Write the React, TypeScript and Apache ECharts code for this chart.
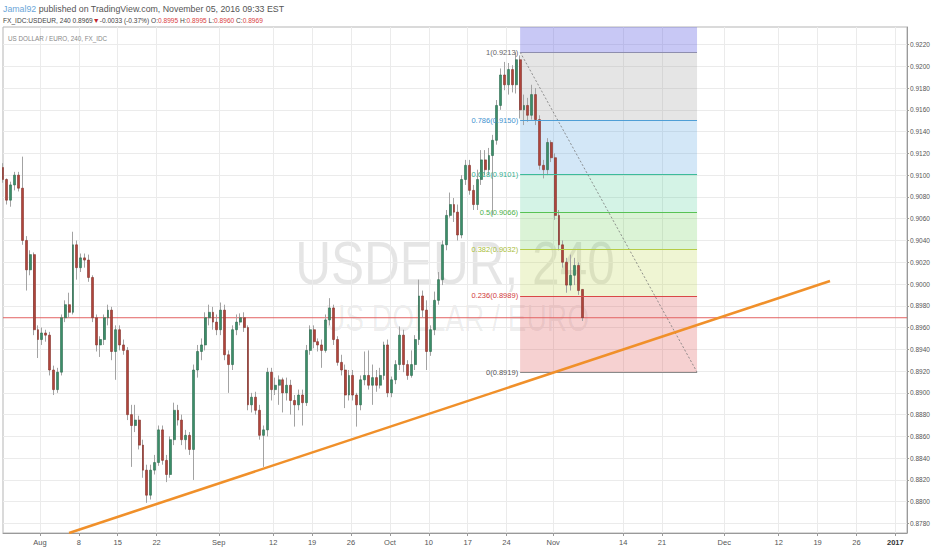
import React, { useEffect, useRef } from "react";
import * as echarts from "echarts";

// 12-hour candles (two per trading day), slot index from Mon Jul 25 2016
const opens = [
  0.9107, 0.9096, 0.9077, 0.9091, 0.9100, 0.9088, 0.9040, 0.9013, 0.9027, 0.8958,
  0.8949, 0.8955, 0.8953, 0.8921, 0.8903, 0.8919, 0.8969, 0.8981, 0.8974, 0.9036,
  0.9015, 0.9024, 0.9022, 0.9006, 0.8969, 0.8944, 0.8949, 0.8969, 0.8976, 0.8938,
  0.8958, 0.8944, 0.8939, 0.8880, 0.8870, 0.8875, 0.8852, 0.8829, 0.8806, 0.8829,
  0.8836, 0.8866, 0.8838, 0.8825, 0.8857, 0.8884, 0.8875, 0.8857, 0.8861, 0.8848,
  0.8921, 0.8938, 0.8944, 0.8969, 0.8974, 0.8965, 0.8958, 0.8976, 0.8935, 0.8926,
  0.8958, 0.8965, 0.8969, 0.8960, 0.8889, 0.8896, 0.8884, 0.8861, 0.8866, 0.8919,
  0.8903, 0.8907, 0.8912, 0.8900, 0.8907, 0.8893, 0.8889, 0.8898, 0.8891, 0.8939,
  0.8958, 0.8947, 0.8944, 0.8939, 0.8967, 0.8978, 0.8949, 0.8928, 0.8921, 0.8898,
  0.8916, 0.8898, 0.8889, 0.8912, 0.8916, 0.8907, 0.8914, 0.8907, 0.8916, 0.8944,
  0.8900, 0.8912, 0.8926, 0.8953, 0.8926, 0.8916, 0.8926, 0.8949, 0.8989, 0.8976,
  0.8938, 0.8958, 0.8985, 0.9004, 0.9036, 0.9063, 0.9073, 0.9066, 0.9045, 0.9096,
  0.9109, 0.9086, 0.9073, 0.9096, 0.9114, 0.9105, 0.9118, 0.9132, 0.9164, 0.9192,
  0.9183, 0.9197, 0.9183, 0.9206, 0.9160, 0.9164, 0.9155, 0.9174, 0.9151, 0.9109,
  0.9105, 0.9130, 0.9116, 0.9063, 0.9036, 0.9020, 0.8999, 0.9008, 0.9017, 0.8995,
];
const closes = [
  0.9096, 0.9077, 0.9091, 0.9100, 0.9088, 0.9040, 0.9013, 0.9027, 0.8958, 0.8949,
  0.8955, 0.8953, 0.8921, 0.8903, 0.8919, 0.8969, 0.8981, 0.8974, 0.9036, 0.9015,
  0.9024, 0.9022, 0.9006, 0.8969, 0.8944, 0.8949, 0.8969, 0.8976, 0.8938, 0.8958,
  0.8944, 0.8939, 0.8880, 0.8870, 0.8875, 0.8852, 0.8829, 0.8806, 0.8829, 0.8836,
  0.8866, 0.8838, 0.8825, 0.8857, 0.8884, 0.8875, 0.8857, 0.8861, 0.8848, 0.8921,
  0.8938, 0.8944, 0.8969, 0.8974, 0.8965, 0.8958, 0.8976, 0.8935, 0.8926, 0.8958,
  0.8965, 0.8969, 0.8960, 0.8889, 0.8896, 0.8884, 0.8861, 0.8866, 0.8919, 0.8903,
  0.8907, 0.8912, 0.8900, 0.8907, 0.8893, 0.8889, 0.8898, 0.8891, 0.8939, 0.8958,
  0.8947, 0.8944, 0.8939, 0.8967, 0.8978, 0.8949, 0.8928, 0.8921, 0.8898, 0.8916,
  0.8898, 0.8889, 0.8912, 0.8916, 0.8907, 0.8914, 0.8907, 0.8916, 0.8944, 0.8900,
  0.8912, 0.8926, 0.8953, 0.8926, 0.8916, 0.8926, 0.8949, 0.8989, 0.8976, 0.8938,
  0.8958, 0.8985, 0.9004, 0.9036, 0.9063, 0.9073, 0.9066, 0.9045, 0.9096, 0.9109,
  0.9086, 0.9073, 0.9096, 0.9114, 0.9105, 0.9118, 0.9132, 0.9164, 0.9192, 0.9183,
  0.9197, 0.9183, 0.9206, 0.9160, 0.9164, 0.9155, 0.9174, 0.9151, 0.9109, 0.9105,
  0.9130, 0.9116, 0.9063, 0.9036, 0.9020, 0.8999, 0.9008, 0.9017, 0.8994, 0.8969,
];
const highs = [
  0.9111, 0.9097, 0.9094, 0.9103, 0.9103, 0.9117, 0.9044, 0.9031, 0.9029, 0.8962,
  0.8960, 0.8958, 0.8956, 0.8925, 0.8923, 0.8972, 0.8985, 0.8992, 0.9048, 0.9040,
  0.9028, 0.9028, 0.9027, 0.9008, 0.8972, 0.8952, 0.8972, 0.8981, 0.8979, 0.8962,
  0.8962, 0.8949, 0.8942, 0.8889, 0.8889, 0.8879, 0.8857, 0.8834, 0.8834, 0.8843,
  0.8870, 0.8870, 0.8843, 0.8860, 0.8891, 0.8889, 0.8880, 0.8866, 0.8864, 0.8926,
  0.8944, 0.8950, 0.8974, 0.8981, 0.8979, 0.8972, 0.8983, 0.8981, 0.8939, 0.8962,
  0.8972, 0.8973, 0.8974, 0.8962, 0.8900, 0.8901, 0.8889, 0.8870, 0.8923, 0.8923,
  0.8914, 0.8916, 0.8914, 0.8914, 0.8912, 0.8898, 0.8903, 0.8903, 0.8944, 0.8962,
  0.8962, 0.8950, 0.8949, 0.8972, 0.8987, 0.8981, 0.8952, 0.8935, 0.8926, 0.8921,
  0.8921, 0.8900, 0.8916, 0.8938, 0.8939, 0.8926, 0.8921, 0.8923, 0.8947, 0.8949,
  0.8915, 0.8930, 0.8961, 0.8958, 0.8930, 0.8939, 0.8953, 0.9004, 0.8994, 0.8985,
  0.8962, 0.8993, 0.9011, 0.9040, 0.9068, 0.9084, 0.9079, 0.9073, 0.9100, 0.9114,
  0.9114, 0.9091, 0.9105, 0.9123, 0.9123, 0.9125, 0.9137, 0.9169, 0.9198, 0.9204,
  0.9203, 0.9201, 0.9213, 0.9210, 0.9174, 0.9171, 0.9183, 0.9180, 0.9155, 0.9114,
  0.9134, 0.9132, 0.9120, 0.9068, 0.9040, 0.9024, 0.9027, 0.9024, 0.9020, 0.8995,
];
const lows = [
  0.9093, 0.9073, 0.9071, 0.9086, 0.9085, 0.9036, 0.8994, 0.9008, 0.8953, 0.8932,
  0.8944, 0.8947, 0.8916, 0.8898, 0.8900, 0.8916, 0.8965, 0.8969, 0.8972, 0.9004,
  0.9011, 0.9015, 0.9002, 0.8965, 0.8938, 0.8933, 0.8944, 0.8962, 0.8930, 0.8912,
  0.8939, 0.8935, 0.8875, 0.8832, 0.8864, 0.8848, 0.8822, 0.8799, 0.8802, 0.8825,
  0.8833, 0.8834, 0.8818, 0.8822, 0.8852, 0.8870, 0.8852, 0.8848, 0.8843, 0.8820,
  0.8914, 0.8930, 0.8939, 0.8962, 0.8958, 0.8953, 0.8953, 0.8930, 0.8900, 0.8921,
  0.8953, 0.8962, 0.8956, 0.8884, 0.8882, 0.8880, 0.8857, 0.8832, 0.8860, 0.8893,
  0.8898, 0.8889, 0.8882, 0.8893, 0.8880, 0.8869, 0.8884, 0.8870, 0.8888, 0.8935,
  0.8941, 0.8938, 0.8923, 0.8937, 0.8962, 0.8944, 0.8925, 0.8916, 0.8886, 0.8893,
  0.8893, 0.8869, 0.8884, 0.8907, 0.8903, 0.8889, 0.8901, 0.8904, 0.8912, 0.8896,
  0.8896, 0.8908, 0.8921, 0.8919, 0.8912, 0.8914, 0.8921, 0.8944, 0.8969, 0.8921,
  0.8934, 0.8953, 0.8981, 0.8999, 0.9031, 0.9061, 0.9057, 0.9040, 0.9042, 0.9091,
  0.9082, 0.9068, 0.9068, 0.9091, 0.9100, 0.9100, 0.9063, 0.9128, 0.9160, 0.9178,
  0.9174, 0.9176, 0.9175, 0.9152, 0.9146, 0.9149, 0.9151, 0.9146, 0.9105, 0.9097,
  0.9100, 0.9112, 0.9059, 0.9031, 0.9015, 0.8992, 0.8994, 0.8999, 0.8990, 0.8966,
];

const yTickValues = [
  0.878, 0.880, 0.882, 0.884, 0.886, 0.888, 0.890, 0.892, 0.894, 0.896, 0.898, 0.900,
  0.902, 0.904, 0.906, 0.908, 0.910, 0.912, 0.914, 0.916, 0.918, 0.920, 0.922,
];
const xTickSlots = [10, 20, 30, 40, 56, 70, 80, 90, 100, 110, 120, 130, 142, 160, 170, 186, 200, 210, 220, 230];
const xTickLabels = ["Aug", "8", "15", "22", "Sep", "12", "19", "26", "Oct", "10", "17", "24", "Nov", "14", "21", "Dec", "12", "19", "26", "2017"];

const fibRatios = ["1", "0.786", "0.618", "0.5", "0.382", "0.236", "0"];
const fibPrices = [0.9213, 0.915, 0.9101, 0.9066, 0.9032, 0.8989, 0.8919];
const fibSlots = [133.5, 179];
const trendSlots = [17.5, 213.2];
const trendPrices = [0.87713, 0.90027];
const lastPrice = 0.8969;

const Y_MIN = 0.877127;
const Y_MAX = 0.923608;
const X_MIN = 0.5;
const X_MAX = 233;

const fibLineColors = ["#8e8eae", "#4f9fd6", "#3dbb9b", "#58c255", "#b5cc47", "#d94848", "#8a8a8a"];
const fibLabelColors = ["#666666", "#3f93cf", "#35b08f", "#4db14a", "#a8bd37", "#d03a3a", "#555555"];
const fibBandColors = [
  "rgba(110,110,230,0.38)",
  "rgba(150,150,150,0.25)",
  "rgba(80,160,225,0.25)",
  "rgba(60,200,140,0.22)",
  "rgba(90,200,70,0.22)",
  "rgba(190,215,80,0.25)",
  "rgba(220,70,70,0.25)",
];

export default function App() {
  const ref = useRef<HTMLDivElement>(null);

  useEffect(() => {
    if (!ref.current) return;
    const chart = echarts.init(ref.current, undefined, { renderer: "svg" });

    const wickData = opens.map((o, i) => [i + 0.5, o, closes[i], lows[i], highs[i]]);
    const bodyData = opens.map((o, i) => [
      i + 0.5,
      o,
      closes[i],
      Math.min(o, closes[i]),
      Math.max(o, closes[i]),
    ]);

    const bandBounds = [Y_MAX, ...fibPrices];
    const markAreaData = fibBandColors.map((c, k) => [
      { coord: [fibSlots[0], bandBounds[k]], itemStyle: { color: c } },
      { coord: [fibSlots[1], bandBounds[k + 1]] },
    ]);
    const markLineData = fibPrices.map((p, k) => {
      const style = {
        lineStyle: { color: fibLineColors[k], width: 1, type: "solid" },
        label: {
          show: true,
          position: "start",
          formatter: `${fibRatios[k]}(${p.toFixed(4)})`,
          color: fibLabelColors[k],
          fontSize: 7.5,
          distance: 2,
        },
      };
      return [
        { coord: [fibSlots[0], p], ...style },
        { coord: [fibSlots[1], p], ...style },
      ];
    });

    const option: any = {
      animation: false,
      textStyle: { fontFamily: "Arial, 'Liberation Sans', sans-serif" },
      grid: {
        left: 3,
        right: 25,
        top: 27,
        bottom: 17,
        show: true,
        borderColor: "#b5b5b5",
        borderWidth: 1,
        outerBoundsMode: "none",
      },
      xAxis: {
        type: "value",
        min: X_MIN,
        max: X_MAX,
        axisLine: { show: true, lineStyle: { color: "#9a9a9a" } },
        axisTick: { show: true, length: 3, lineStyle: { color: "#9a9a9a" }, customValues: xTickSlots },
        splitLine: { show: true, lineStyle: { color: "#ebebeb", width: 1 } },
        axisLabel: {
          customValues: xTickSlots,
          fontSize: 7.5,
          color: "#555",
          margin: 5,
          formatter: (v: number) => {
            const k = xTickSlots.findIndex((s) => Math.abs(s - v) < 0.01);
            const t = k >= 0 ? xTickLabels[k] : "";
            return t === "2017" ? "{b|2017}" : t;
          },
          rich: { b: { fontWeight: "bold", fontSize: 7.5, color: "#333" } },
        },
      },
      yAxis: {
        type: "value",
        position: "right",
        min: Y_MIN,
        max: Y_MAX,
        scale: true,
        axisLine: { show: true, lineStyle: { color: "#9a9a9a" } },
        axisTick: { show: true, length: 2, lineStyle: { color: "#9a9a9a" }, customValues: yTickValues },
        splitLine: { show: true, lineStyle: { color: "#ebebeb", width: 1 } },
        axisLabel: {
          customValues: yTickValues,
          fontSize: 6.5,
          color: "#555",
          margin: 3,
          formatter: (v: number) => v.toFixed(4),
        },
      },
      graphic: [
        {
          type: "text",
          x: 455,
          y: 262,
          z: 0,
          scaleX: 0.8,
          silent: true,
          style: {
            text: "USDEUR, 240",
            fontSize: 62,
            fontFamily: "Arial, 'Liberation Sans', sans-serif",
            fill: "rgba(0,0,0,0.10)",
            textAlign: "center",
            textVerticalAlign: "middle",
          },
        },
        {
          type: "text",
          x: 457,
          y: 318,
          z: 0,
          scaleX: 0.76,
          silent: true,
          style: {
            text: "US DOLLAR / EURO",
            fontSize: 37,
            fontFamily: "Arial, 'Liberation Sans', sans-serif",
            fill: "rgba(0,0,0,0.08)",
            textAlign: "center",
            textVerticalAlign: "middle",
          },
        },
        {
          type: "text",
          x: 8,
          y: 38,
          z: 10,
          silent: true,
          style: {
            text: "US DOLLAR / EURO, 240, FX_IDC",
            fontSize: 6.3,
            fontFamily: "Arial, 'Liberation Sans', sans-serif",
            fill: "#888",
            textVerticalAlign: "middle",
          },
        },
        {
          type: "text",
          x: 3,
          y: 9,
          z: 10,
          silent: true,
          style: {
            text: "{a|Jamal92}{b| published on TradingView.com, November 05, 2016 09:33 EST}",
            fontSize: 8.8,
            fontFamily: "Arial, 'Liberation Sans', sans-serif",
            textVerticalAlign: "middle",
            rich: {
              a: { fill: "#6aa6d8", fontSize: 8.8 },
              b: { fill: "#555", fontSize: 8.8 },
            },
          },
        },
        {
          type: "text",
          x: 3,
          y: 20,
          z: 10,
          silent: true,
          style: {
            text:
              "{d|FX_IDC:USDEUR, 240 0.8969}{r|▼}{d|-0.0033 (-0.37%) O:}{v|0.8995}{d| H:}{v|0.8995}{d| L:}{v|0.8960}{d| C:}{v|0.8969}",
            fontSize: 6.6,
            fontFamily: "Arial, 'Liberation Sans', sans-serif",
            textVerticalAlign: "middle",
            rich: {
              d: { fill: "#444", fontSize: 6.6 },
              r: { fill: "#c0262d", fontSize: 7 },
              v: { fill: "#d9423f", fontSize: 6.6 },
            },
          },
        },
      ],
      series: [
        {
          type: "line",
          name: "fib",
          z: 1,
          data: [
            [fibSlots[0], fibPrices[0]],
            [fibSlots[1], fibPrices[fibPrices.length - 1]],
          ],
          symbol: "none",
          silent: true,
          lineStyle: { color: "#777", width: 0.8, type: [2, 2] },
          markArea: { silent: true, data: markAreaData },
          markLine: { silent: true, precision: 5, symbol: ["none", "none"], data: markLineData },
        },
        {
          type: "line",
          name: "price",
          z: 2,
          data: [
            [X_MIN, lastPrice],
            [X_MAX, lastPrice],
          ],
          symbol: "none",
          silent: true,
          lineStyle: { color: "#e36262", width: 1, type: "solid" },
          markLine: {
            silent: true,
            precision: 5,
            symbol: ["none", "none"],
            lineStyle: { color: "#e36262", width: 0, opacity: 0 },
            label: {
              show: true,
              position: "end",
              color: "#fff",
              backgroundColor: "#e0534e",
              fontSize: 6.5,
              padding: [2, 2, 1, 2],
              distance: 2,
              formatter: lastPrice.toFixed(4),
            },
            data: [{ yAxis: lastPrice }],
          },
        },
        {
          type: "candlestick",
          name: "wick",
          z: 3,
          data: wickData,
          barWidth: 1,
          silent: true,
          itemStyle: {
            color: "transparent",
            color0: "transparent",
            borderColor: "#a3a3a3",
            borderColor0: "#a3a3a3",
            borderColorDoji: "#a3a3a3",
            borderWidth: 1,
          },
        },
        {
          type: "candlestick",
          name: "body",
          z: 4,
          data: bodyData,
          barWidth: 2.4,
          silent: true,
          itemStyle: {
            color: "#3b8e69",
            color0: "#b0443b",
            borderColor: "#2b6a4e",
            borderColor0: "#83302a",
            borderColorDoji: "#83302a",
            borderWidth: 0.6,
          },
        },
        {
          type: "line",
          name: "trend",
          z: 5,
          data: [
            [trendSlots[0], trendPrices[0]],
            [trendSlots[1], trendPrices[1]],
          ],
          symbol: "none",
          silent: true,
          clip: true,
          lineStyle: { color: "#f0902a", width: 2.6 },
        },
      ],
    };

    chart.setOption(option);
    return () => chart.dispose();
  }, []);

  return (
    <div
      ref={ref}
      style={{ position: "fixed", left: 0, top: 0, width: 932, height: 550, background: "#fff" }}
    />
  );
}
